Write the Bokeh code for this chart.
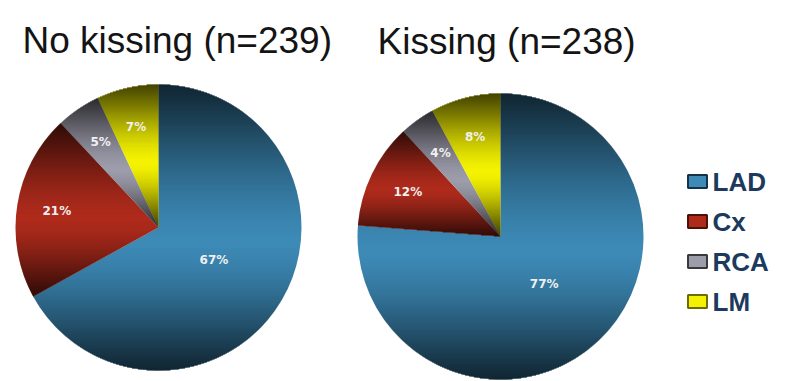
import numpy as np
from bokeh.plotting import figure
from bokeh.models import Range1d, ColumnDataSource
from bokeh.embed import file_html
from bokeh.resources import INLINE
from bokeh.core.properties import value

# ---- data ----
categories = ["LAD", "Cx", "RCA", "LM"]
no_kissing_pct = [67, 21, 5, 7]
kissing_pct = [77, 12, 4, 8]
pie_titles = ["No kissing (n=239)", "Kissing (n=238)"]

# ---- style / layout ----
W, H = 787, 381
colors = ["#3d8ab7", "#ae2b1c", "#9d9cab", "#f4f200"]
legend_edge = ["#16324a", "#4a1208", "#3a3a3a", "#6e6c00"]
R = 143
pie_layout = [(158, 227), (500, 236)]        # screen-pixel centres
title_layout = [(22, 40), (377, 41)]          # screen-pixel (x, baseline)

p = figure(width=W, height=H, x_range=Range1d(0, W), y_range=Range1d(0, H),
           output_backend="svg", toolbar_location=None, min_border=0,
           x_axis_type=None, y_axis_type=None)
p.grid.visible = False
p.outline_line_color = None
p.background_fill_color = "white"
p.border_fill_color = "white"


def shade(t):
    """Darkening alpha for a relative vertical position t in [-1, 1]."""
    t0 = 0.1
    u = np.where(t < t0, (t0 - t) / (1 + t0), (t - t0) / (1 - t0))
    u = np.clip(u, 0, 1)
    return 0.95 * u ** 1.6


for (cx, cy), pct in zip(pie_layout, [no_kissing_pct, kissing_pct]):
    vals = np.array(pct, dtype=float)
    frac = vals / vals.sum()
    cum = np.concatenate([[0.0], np.cumsum(frac)])
    start = np.pi / 2 - 2 * np.pi * cum[1:]
    end = np.pi / 2 - 2 * np.pi * cum[:-1]
    src = ColumnDataSource(dict(x=[cx] * len(vals), y=[H - cy] * len(vals),
                                start=start, end=end, color=colors))
    p.wedge(x="x", y="y", radius=R, start_angle="start", end_angle="end",
            direction="anticlock", fill_color="color", line_color=None, source=src)

    # vertical extent of every slice (screen dy relative to centre)
    ext = []
    for i in range(len(vals)):
        th = np.linspace(cum[i], cum[i + 1], 200) * 2 * np.pi
        ys = np.concatenate([[0.0], -R * np.cos(th)])
        ext.append((ys.min(), ys.max()))

    # per-slice vertical gradient overlay (dark at top & bottom of each slice)
    bth = cum[:-1] * 2 * np.pi  # boundary rays, clockwise from top
    rows, lefts, rights, alphas = [], [], [], []
    for r in np.arange(-R, R) + 0.5:
        half = np.sqrt(max(R ** 2 - r ** 2, 0.0))
        pts = [-half, half]
        for th in bth:
            c = -np.cos(th)
            if abs(c) > 1e-9:
                tt = r / c
                if tt > 0:
                    xk = tt * np.sin(th)
                    if -half < xk < half:
                        pts.append(xk)
        pts = sorted(pts)
        for a, b in zip(pts[:-1], pts[1:]):
            if b - a <= 1e-6:
                continue
            m = (a + b) / 2
            ang = np.arctan2(m, -r) % (2 * np.pi)
            k = int(np.clip(np.searchsorted(cum, ang / (2 * np.pi), side="right") - 1,
                            0, len(vals) - 1))
            y0, y1 = ext[k]
            t = 2 * (r - y0) / max(y1 - y0, 1e-6) - 1
            rows.append(cy + r)
            lefts.append(cx + a)
            rights.append(cx + b)
            alphas.append(float(shade(np.array(t))))
    p.hbar(y=H - np.array(rows), height=1, left=lefts, right=rights,
           fill_color="black", fill_alpha=alphas, line_color=None)

    # percentage labels
    mids = (cum[:-1] + cum[1:]) / 2 * 2 * np.pi
    rf = np.where(frac > 0.5, 0.45, 0.72)
    lx = cx + rf * R * np.sin(mids)
    ly = cy - rf * R * np.cos(mids)
    p.text(x=lx, y=H - ly, text=[f"{v}%" for v in pct],
           text_align="center", text_baseline="middle",
           text_font=value("DejaVu Sans"), text_font_style="bold",
           text_font_size="12px", text_color="#f0f0f0")

# titles
p.text(x=[t[0] for t in title_layout], y=[H - t[1] for t in title_layout],
       text=pie_titles, text_align="left", text_baseline="alphabetic",
       text_font=value("Liberation Sans"), text_font_size="37px",
       text_color="#141414")

# legend
ly = np.array([181 + 40 * i for i in range(len(categories))], dtype=float)
p.rect(x=[697] * len(categories), y=H - ly, width=19, height=13,
       fill_color=colors, line_color=legend_edge, line_width=2)
p.text(x=[712] * len(categories), y=H - ly, text=categories,
       text_align="left", text_baseline="middle",
       text_font=value("Liberation Sans"), text_font_style="bold",
       text_font_size="26px", text_color="#1c3a5e")

open("out.html", "w").write(file_html(p, INLINE))
